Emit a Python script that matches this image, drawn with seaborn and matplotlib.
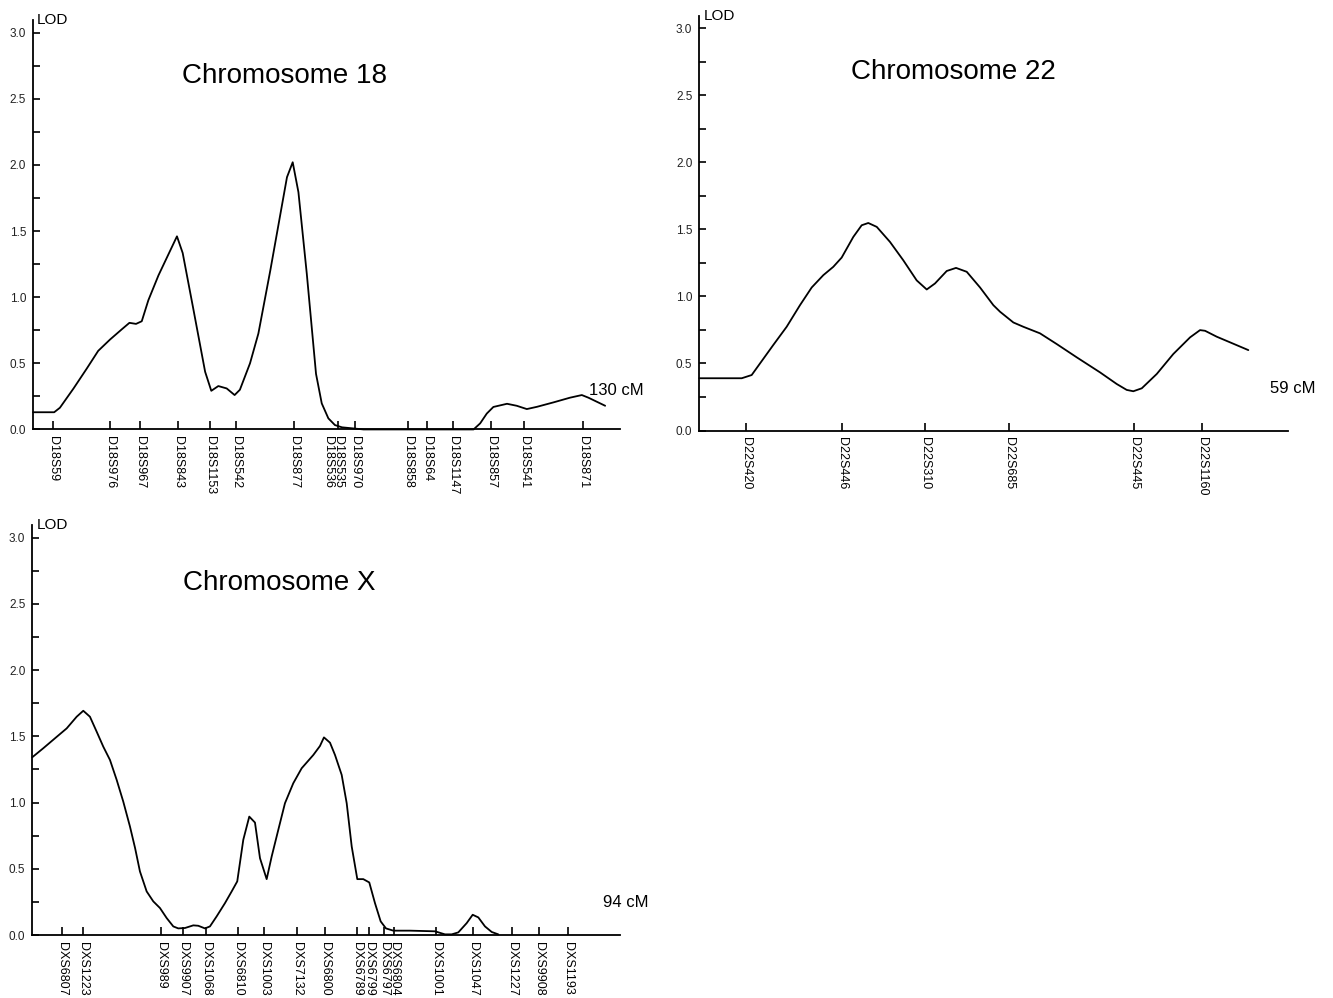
import numpy as np
import pandas as pd
import seaborn as sns
import matplotlib.pyplot as plt
from matplotlib.ticker import MultipleLocator, FormatStrFormatter

# Chromosome 18 (position in cM, LOD score)
cm_18 = [0, 4.8, 6.1, 9.2, 12.2, 14.8, 17.5, 20.2, 21.9, 23.4, 24.7, 26.2, 28.5,
         32.7, 34.0, 36.4, 39.1, 40.5, 42.1, 44.0, 45.8, 47.0, 49.3, 51.2, 53.9,
         57.7, 59.0, 60.3, 62.2, 64.3, 65.6, 67.1, 68.6, 70.2, 75.1, 100.1, 101.6,
         103.1, 104.6, 107.7, 109.9, 112.2, 114.5, 118.3, 122.0, 124.7, 126.2, 130.0]
lod_18 = [0.13, 0.13, 0.164, 0.31, 0.46, 0.594, 0.68, 0.758, 0.806, 0.798, 0.818,
          0.977, 1.165, 1.46, 1.334, 0.914, 0.436, 0.292, 0.328, 0.31, 0.26, 0.30,
          0.5, 0.725, 1.20, 1.907, 2.02, 1.794, 1.178, 0.42, 0.197, 0.084, 0.033,
          0.016, 0.0, 0.0, 0.046, 0.12, 0.17, 0.194, 0.179, 0.154, 0.171, 0.205,
          0.24, 0.26, 0.24, 0.179]
markers_18 = ["D18S59", "D18S976", "D18S967", "D18S843", "D18S1153", "D18S542",
              "D18S877", "D18S536", "D18S535", "D18S970", "D18S858", "D18S64",
              "D18S1147", "D18S857", "D18S541", "D18S871"]
markers_18_cm = [4.61, 17.5, 24.32, 32.89, 40.23, 46.07, 59.32, 69.39, 69.39,
                 73.18, 85.3, 89.61, 95.52, 104.02, 111.66, 125.07]

# Chromosome 22
cm_22 = [0, 4.56, 5.63, 6.52, 7.95, 9.39, 10.82, 12.08, 13.33, 14.40, 15.30,
         16.55, 17.45, 18.16, 19.07, 20.49, 21.92, 23.36, 24.44, 25.33, 26.59,
         27.59, 28.74, 30.17, 31.60, 32.32, 33.75, 34.82, 36.61, 38.41, 40.56,
         43.06, 44.86, 45.93, 46.64, 47.55, 49.16, 50.94, 52.74, 53.81, 54.35,
         55.60, 57.03, 59.0]
lod_22 = [0.39, 0.39, 0.414, 0.50, 0.638, 0.774, 0.935, 1.067, 1.159, 1.221, 1.29,
          1.444, 1.531, 1.548, 1.519, 1.407, 1.27, 1.12, 1.052, 1.097, 1.19, 1.213,
          1.184, 1.067, 0.935, 0.886, 0.806, 0.774, 0.725, 0.645, 0.546, 0.434,
          0.347, 0.303, 0.293, 0.315, 0.422, 0.571, 0.695, 0.749, 0.744, 0.70,
          0.658, 0.60]
markers_22 = ["D22S420", "D22S446", "D22S310", "D22S685", "D22S445", "D22S1160"]
markers_22_cm = [4.99, 15.37, 24.29, 33.28, 46.72, 53.99]

# Chromosome X
cm_x = [0, 1.93, 3.98, 6.04, 7.79, 8.95, 10.12, 11.30, 12.46, 13.63, 14.81, 15.96,
        17.14, 18.04, 18.89, 20.07, 21.23, 22.40, 23.58, 24.74, 25.61, 26.79,
        28.25, 29.12, 30.30, 31.17, 32.35, 33.81, 34.98, 35.96, 37.02, 38.07,
        39.07, 39.95, 41.12, 42.0, 43.16, 44.33, 45.79, 47.26, 49.30, 50.47,
        51.17, 52.23, 53.11, 54.28, 55.16, 56.04, 57.02, 58.07, 59.12, 60.12,
        61.12, 62.05, 63.33, 66.26, 70.65, 72.40, 73.58, 74.74, 76.21, 77.26,
        78.25, 79.42, 80.60, 81.75]
lod_x = [1.342, 1.41, 1.485, 1.56, 1.648, 1.693, 1.648, 1.535, 1.422, 1.322, 1.171,
         1.008, 0.819, 0.656, 0.48, 0.329, 0.254, 0.204, 0.128, 0.065, 0.05, 0.053,
         0.073, 0.07, 0.05, 0.065, 0.141, 0.241, 0.329, 0.405, 0.719, 0.894, 0.849,
         0.58, 0.422, 0.593, 0.794, 0.995, 1.146, 1.259, 1.359, 1.427, 1.492, 1.452,
         1.359, 1.209, 0.995, 0.668, 0.422, 0.422, 0.397, 0.241, 0.103, 0.05, 0.033,
         0.033, 0.028, 0.005, 0.005, 0.02, 0.09, 0.153, 0.133, 0.065, 0.023, 0.005]
markers_x = ["DXS6807", "DXS1223", "DXS989", "DXS9907", "DXS1068", "DXS6810",
             "DXS1003", "DXS7132", "DXS6800", "DXS6789", "DXS6799", "DXS6797",
             "DXS6804", "DXS1001", "DXS1047", "DXS1227", "DXS9908", "DXS1193"]
markers_x_cm = [5.16, 8.95, 22.58, 26.49, 30.47, 36.14, 40.70, 46.39, 51.35, 56.91,
                59.07, 61.75, 63.46, 70.82, 77.37, 84.11, 88.91, 94.04]

sns.set_style("ticks")
plt.rcParams['font.family'] = ['Liberation Sans', 'DejaVu Sans']
plt.rcParams['text.color'] = 'black'

fig = plt.figure(figsize=(13.33, 9.98), dpi=100)
ax18 = fig.add_axes([0.0248, 0.5697, 0.4404, 0.4102])
ax22 = fig.add_axes([0.5246, 0.5686, 0.4419, 0.4158])
axx = fig.add_axes([0.0242, 0.0631, 0.4409, 0.4108])


def lod_panel(ax, cm, lod, names, pos, xmax, title, title_xy, length, length_xy):
    df = pd.DataFrame({"cM": cm, "LOD": lod})
    sns.lineplot(data=df, x="cM", y="LOD", ax=ax, color="black", lw=1.3,
                 estimator=None, sort=False, clip_on=False)
    ax.set_xlim(0, xmax)
    ax.set_ylim(0, 3.095)
    ax.set_xlabel("")
    ax.set_ylabel("")
    for s in ["top", "right"]:
        ax.spines[s].set_visible(False)
    for s in ["left", "bottom"]:
        ax.spines[s].set_linewidth(1.3)
        ax.spines[s].set_color("black")

    ax.yaxis.set_major_locator(MultipleLocator(0.5))
    ax.yaxis.set_minor_locator(MultipleLocator(0.25))
    ax.yaxis.set_major_formatter(FormatStrFormatter("%.1f"))
    ax.tick_params(axis="y", which="both", direction="in", length=5, width=1.2,
                   labelsize=8.5, pad=5, labelcolor="#222222", color="black")

    ax.set_xticks(sorted(set(pos)))
    ax.set_xticklabels([])
    ax.tick_params(axis="x", which="both", direction="in", length=6, width=1.2,
                   color="black")

    # marker names, stacked side by side when two share a locus
    for i, (name, p) in enumerate(zip(names, pos)):
        later = sum(1 for q in pos[i + 1:] if q == p)
        ax.annotate(name, xy=(p, 0), xycoords=("data", "axes fraction"),
                    xytext=(-7.5 * later, -5), textcoords="offset points",
                    rotation=270, ha="center", va="top", fontsize=9)

    ax.annotate("LOD", xy=(0, 1), xycoords="axes fraction", xytext=(3, 0),
                textcoords="offset points", ha="left", va="center", fontsize=11)
    ax.text(title_xy[0], title_xy[1], title, transform=ax.transAxes,
            ha="center", va="center", fontsize=20)
    ax.text(length_xy[0], length_xy[1], length, transform=ax.transAxes,
            ha="center", va="center", fontsize=12)


lod_panel(ax18, cm_18, lod_18, markers_18, markers_18_cm, 133.4,
          "Chromosome 18", (0.429, 0.863), "130 cM", (0.994, 0.096))
lod_panel(ax22, cm_22, lod_22, markers_22, markers_22_cm, 63.3,
          "Chromosome 22", (0.431, 0.864), "59 cM", (1.008, 0.102))
lod_panel(axx, cm_x, lod_x, markers_x, markers_x_cm, 103.1,
          "Chromosome X", (0.42, 0.859), "94 cM", (1.010, 0.080))

fig.savefig("out.png", dpi=100)
